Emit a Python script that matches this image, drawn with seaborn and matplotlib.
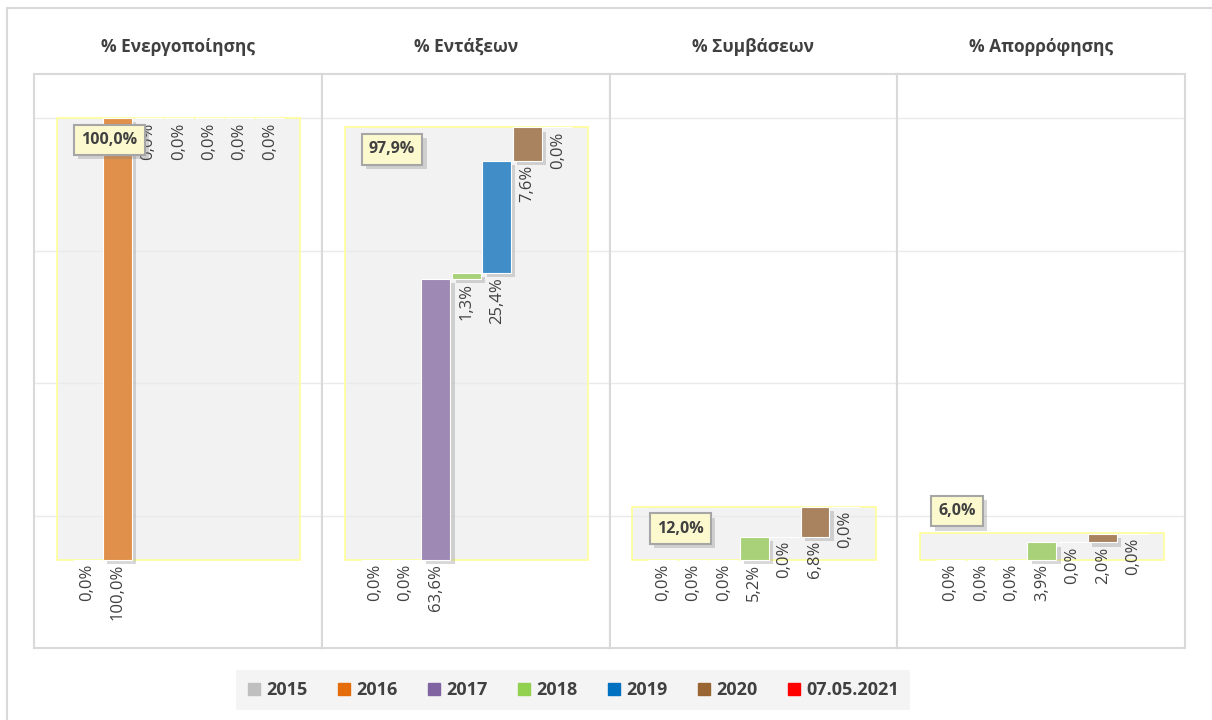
import matplotlib
matplotlib.use("Agg")
import matplotlib.pyplot as plt
import matplotlib.patheffects as pe
from matplotlib.patches import Rectangle
from matplotlib.lines import Line2D
import numpy as np
import pandas as pd
import seaborn as sns

years = ["2015", "2016", "2017", "2018", "2019", "2020", "07.05.2021"]
titles = ["% Ενεργοποίησης", "% Εντάξεων", "% Συμβάσεων", "% Απορρόφησης"]

# yearly increments per indicator (%)
energopoiisi = [0.0, 100.0, 0.0, 0.0, 0.0, 0.0, 0.0]
entakseis = [0.0, 0.0, 63.6, 1.3, 25.4, 7.6, 0.0]
symvaseis = [0.0, 0.0, 0.0, 5.2, 0.0, 6.8, 0.0]
aporrofisi = [0.0, 0.0, 0.0, 3.9, 0.0, 2.0, 0.0]
totals = [100.0, 97.9, 12.0, 6.0]

bar_colors = ["#BFBFBF", "#E0904B", "#9E88B4", "#A9D17A", "#418DC8", "#A9835F", "#F04040"]
legend_colors = ["#BFBFBF", "#E46C0A", "#8064A2", "#92D050", "#0070C0", "#996633", "#FF0000"]

sns.set_theme(style="white")
plt.rcParams["font.family"] = ["Open Sans", "DejaVu Sans"]
txt = "#404040"

fig = plt.figure(figsize=(12.12, 7.2), dpi=100)
left, right, bottom, top = 34 / 1212, 1185 / 1212, 1 - 648 / 720, 1 - 74 / 720
w = (right - left) / 4
series = [energopoiisi, entakseis, symvaseis, aporrofisi]


def fmt(v):
    return f"{v:.1f}%".replace(".", ",")


shadow = [pe.SimplePatchShadow(offset=(3, -3), shadow_rgbFace="#808080", alpha=0.3), pe.Normal()]

for k, (title, vals, total) in enumerate(zip(titles, series, totals)):
    ax = fig.add_axes([left + k * w, bottom, w, top - bottom])
    ends = np.cumsum(vals)
    starts = ends - np.array(vals)
    df = pd.DataFrame({"year": years, "value": vals})

    sns.barplot(data=df, x="year", y="value", hue="year", order=years, hue_order=years,
                palette=bar_colors, saturation=1, width=0.95, legend=False, errorbar=None, ax=ax,
                edgecolor="white", linewidth=0.8, zorder=3)
    bars = list(ax.patches)
    for p, s in zip(bars, starts):
        p.set_y(s)
        p.set_path_effects(shadow)

    # total box behind the waterfall
    ax.add_patch(Rectangle((-1, 0), 8, total, facecolor="#F2F2F2", edgecolor="none", zorder=1))
    ax.add_patch(Rectangle((-1, 0), 8, total, fill=False, edgecolor="#FFFF99", lw=1.2, zorder=2))
    for g in [10, 40, 70, 100]:
        ax.axhline(g, color="#EAEAEA", lw=1, zorder=1.5)

    for i, (v, s) in enumerate(zip(vals, starts)):
        ax.annotate(fmt(v), (i, s), xytext=(0, -3), textcoords="offset points",
                    rotation=90, ha="center", va="top", fontsize=12, color=txt, zorder=5)

    box = dict(boxstyle="square,pad=0.45", facecolor="#FCF9CF", edgecolor="#A6A6A6", lw=1.5)
    if total > 8:
        t = ax.annotate(fmt(total), (-0.2, total), xytext=(0, -10), textcoords="offset points",
                        ha="left", va="top", fontsize=11.5, fontweight="bold", color=txt,
                        bbox=box, zorder=6)
    else:
        t = ax.annotate(fmt(total), (-0.4, total), xytext=(0, 10), textcoords="offset points",
                        ha="left", va="bottom", fontsize=11.5, fontweight="bold", color=txt,
                        bbox=box, zorder=6)
    t.get_bbox_patch().set_path_effects(shadow)

    ax.set_xlim(-1.75, 7.7)
    ax.set_ylim(-20, 110)
    ax.set_xticks([])
    ax.set_yticks([])
    ax.set_xlabel("")
    ax.set_ylabel("")
    for sp in ax.spines.values():
        sp.set_color("#D9D9D9")
        sp.set_linewidth(1.5)

    fig.text(left + (k + 0.5) * w, 1 - 47 / 720, title, ha="center", va="center",
             fontsize=12.5, fontweight="bold", color=txt)

handles = [Line2D([], [], marker="s", linestyle="none", markersize=8, color=c) for c in legend_colors]
leg = fig.legend(handles, years, loc="center", bbox_to_anchor=(573 / 1212, 1 - 690 / 720), ncol=7,
                 frameon=True, fancybox=False, facecolor="#F2F2F2", edgecolor="none",
                 prop={"weight": "bold", "size": 13}, labelcolor=txt, handlelength=0.8,
                 handletextpad=0.3, columnspacing=1.6, borderpad=0.6)

fig.patches.append(Rectangle((7 / 1212, -0.1), 1.2, 1.1 - 8 / 720, transform=fig.transFigure,
                             fill=False, edgecolor="#D9D9D9", lw=1.5))

fig.savefig("out.png", dpi=100)
